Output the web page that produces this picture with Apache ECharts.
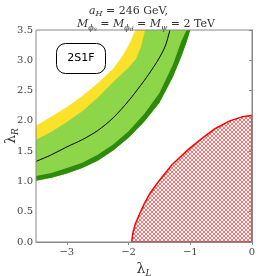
<!DOCTYPE html>
<html><head><meta charset="utf-8">
<script src="https://cdn.jsdelivr.net/npm/echarts@6/dist/echarts.min.js"></script>
<style>html,body{margin:0;padding:0;background:#fff}#c{width:258px;height:276px}</style>
</head><body><div id="c"></div>
<script>
// ---- data ----
const xTicks = [-3, -2, -1, 0];
const yTicks = [0, 0.5, 1.0, 1.5, 2.0, 2.5, 3.0, 3.5];
const legendLabel = '2S1F';
// upper edge of yellow band
const yellowHi = [[-3.5,1.92],[-3.25,2.07],[-3.0,2.23],[-2.75,2.41],[-2.5,2.62],[-2.25,2.86],[-2.1,3.07],[-2.0,3.25],[-1.93,3.4],[-1.89,3.5]];
// upper edge of light-green band
const greenHi = [[-3.5,1.69],[-3.25,1.82],[-3.0,1.98],[-2.75,2.16],[-2.5,2.38],[-2.25,2.64],[-2.0,2.88],[-1.88,3.02],[-1.8,3.22],[-1.73,3.5]];
// central line
const centerLine = [[-3.5,1.33],[-3.25,1.44],[-3.0,1.57],[-2.75,1.69],[-2.5,1.84],[-2.25,2.05],[-2.0,2.33],[-1.75,2.66],[-1.6,2.88],[-1.49,3.06],[-1.4,3.25],[-1.33,3.5]];
// upper edge of dark-green band
const darkHi = [[-3.5,1.09],[-3.25,1.14],[-3.0,1.22],[-2.75,1.31],[-2.5,1.44],[-2.25,1.61],[-2.0,1.83],[-1.75,2.11],[-1.5,2.46],[-1.28,2.93],[-1.15,3.3],[-1.06,3.5]];
// lower edge of the whole band
const darkLo = [[-3.5,1.01],[-3.25,1.06],[-3.0,1.13],[-2.75,1.22],[-2.5,1.34],[-2.25,1.51],[-2.0,1.72],[-1.75,1.98],[-1.5,2.3],[-1.28,2.73],[-1.15,3.05],[-1.06,3.3],[-1.0,3.5]];
// excluded (hatched) region boundary
const redRegion = [[-1.95,0],[-1.93,0.15],[-1.89,0.3],[-1.84,0.42],[-1.75,0.62],[-1.65,0.81],[-1.52,0.99],[-1.3,1.27],[-1.04,1.52],[-0.8,1.72],[-0.6,1.87],[-0.36,2.0],[-0.15,2.07],[0,2.09],[0,0]];

// ---- hatch pattern ----
const pc = document.createElement('canvas');
pc.width = 4; pc.height = 4;
const g = pc.getContext('2d');
g.fillStyle = '#ffffff'; g.fillRect(0,0,4,4);
g.strokeStyle = 'rgba(255,0,0,0.55)'; g.lineWidth = 1;
g.beginPath(); g.moveTo(0,0); g.lineTo(4,4); g.moveTo(4,0); g.lineTo(0,4); g.stroke();

const serif = 'DejaVu Serif';
function band(upper, lower, color) {
  return {
    type: 'custom', silent: true, z: 2, data: [[0, 0]],
    renderItem: (params, api) => {
      const pts = upper.map(p => api.coord(p)).concat(lower.slice().reverse().map(p => api.coord(p)));
      return { type: 'polygon', shape: { points: pts }, style: { fill: color } };
    }
  };
}

const chart = echarts.init(document.getElementById('c'), null, { renderer: 'canvas' });
const base = { fontFamily: serif, fontWeight: 'normal', color: '#333' };
const mi = Object.assign({}, base, { fontSize: 11, fontStyle: 'italic', lineHeight: 12 });
const mn = Object.assign({}, base, { fontSize: 11, lineHeight: 12 });
const sub = Object.assign({}, base, { fontSize: 8, fontStyle: 'italic', verticalAlign: 'bottom', lineHeight: 14 });
const ssub = Object.assign({}, base, { fontSize: 6, fontStyle: 'italic', verticalAlign: 'bottom', lineHeight: 16 });
const tick = Object.assign({}, base, { fontSize: 10, color: '#444' });
const nameRich = { a: Object.assign({}, base, { fontSize: 14 }), b: Object.assign({}, base, { fontSize: 9, fontStyle: 'italic', verticalAlign: 'bottom', lineHeight: 18 }) };
chart.setOption({
  animation: false,
  textStyle: { fontFamily: serif },
  title: [
    { left: 84, top: -1, text: '{i|a}{s|H}{n| = 246 GeV,}',
      textStyle: { fontWeight: 'normal', fontFamily: serif, rich: { i: mi, n: mn, s: sub } } },
    { left: 72, top: 11, text: '{i|M}{s|ϕ}{ss|s}{n| = }{i|M}{s|ϕ}{ss|d}{n| = }{i|M}{s|ψ}{n| = 2 TeV}',
      textStyle: { fontWeight: 'normal', fontFamily: serif, rich: { i: mi, n: mn, s: sub, ss: ssub } } }
  ],
  grid: { left: 36, right: 6, top: 30, bottom: 34, show: true, borderColor: '#888', borderWidth: 1, z: 10,
    containLabel: false, outerBoundsMode: 'none' },
  xAxis: {
    type: 'value', min: -3.5, max: 0, z: 10,
    axisLine: { show: true, lineStyle: { color: '#888', width: 1 } },
    axisTick: { show: true, length: 3, lineStyle: { color: '#888' }, customValues: xTicks },
    axisLabel: { customValues: xTicks, fontFamily: serif, fontSize: 10, color: '#444', margin: 5,
      formatter: v => '{t|' + (v < 0 ? '\u2212' + Math.abs(v) : String(v)) + '}', rich: { t: tick } },
    splitLine: { show: false },
    name: '{a|λ}{b|L}', nameLocation: 'middle', nameGap: 13,
    nameTextStyle: { fontFamily: serif, rich: nameRich }
  },
  yAxis: {
    type: 'value', min: 0, max: 3.5, z: 10,
    axisLine: { show: true, lineStyle: { color: '#888', width: 1 } },
    axisTick: { show: true, length: 3, lineStyle: { color: '#888' }, customValues: yTicks },
    axisLabel: { customValues: yTicks, fontFamily: serif, fontSize: 10, color: '#444', margin: 3,
      formatter: v => '{t|' + v.toFixed(1) + '}', rich: { t: tick } },
    splitLine: { show: false }
  },
  series: [
    band(yellowHi, darkLo, '#FCE12A'),
    band(greenHi, darkLo, '#8ED649'),
    band(darkHi, darkLo, '#2C8A0C'),
    { type: 'line', data: centerLine, showSymbol: false, smooth: 0.3, silent: true, z: 3,
      lineStyle: { color: '#000', width: 1 } },
    { type: 'custom', silent: true, z: 4, data: [[0, 0]],
      renderItem: (params, api) => ({
        type: 'polygon', shape: { points: redRegion.map(p => api.coord(p)) },
        style: { fill: { image: pc, repeat: 'repeat' }, stroke: '#ff0000', lineWidth: 1.5 } }) }
  ],
  graphic: [{
    type: 'group', left: 56, top: 43, z: 20,
    children: [
      { type: 'rect', shape: { x: 0, y: 0, width: 49, height: 30, r: 9 }, style: { fill: '#fff', stroke: '#000', lineWidth: 1 } },
      { type: 'text', x: 24.5, y: 15, style: { text: legendLabel, font: '11px "DejaVu Sans"', fill: '#000', align: 'center', verticalAlign: 'middle' } }
    ]
  }, {
    type: 'text', x: 11, y: 136, rotation: Math.PI / 2, z: 20,
    style: { text: '{a|λ}{b|R}', rich: nameRich, align: 'center', verticalAlign: 'middle', fill: '#333' }
  }]
});
</script></body></html>
